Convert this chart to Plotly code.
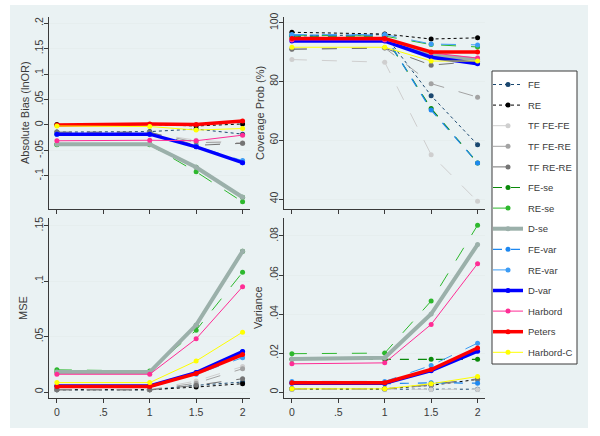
import plotly.graph_objects as go

W, H = 600, 436

x_vals = [0, 1, 1.5, 2]
series_names = ["FE", "RE", "TF FE-FE", "TF FE-RE", "TF RE-RE", "FE-se", "RE-se",
                "D-se", "FE-var", "RE-var", "D-var", "Harbord", "Peters", "Harbord-C"]

# values per series (same order as series_names), at x = 0, 1, 1.5, 2
bias_vals = [
    [-0.014, -0.013, -0.008, -0.018],
    [0.001, 0.001, -0.002, 0.002],
    [-0.016, -0.016, -0.030, -0.035],
    [-0.015, -0.015, -0.034, -0.036],
    [-0.014, -0.014, -0.040, -0.036],
    [-0.038, -0.038, -0.083, -0.142],
    [-0.039, -0.039, -0.092, -0.151],
    [-0.038, -0.038, -0.083, -0.142],
    [-0.018, -0.018, -0.043, -0.074],
    [-0.018, -0.018, -0.042, -0.070],
    [-0.018, -0.018, -0.043, -0.074],
    [-0.031, -0.030, -0.031, -0.020],
    [0.000, 0.002, 0.001, 0.008],
    [-0.002, -0.003, -0.010, -0.007],
]
coverage_vals = [
    [95.5, 96.0, 75.2, 58.5],
    [96.8, 96.2, 94.5, 94.9],
    [87.5, 86.6, 55.1, 39.2],
    [91.1, 91.5, 79.3, 74.7],
    [91.0, 91.4, 85.6, 86.9],
    [95.5, 95.5, 70.8, 52.3],
    [95.8, 95.5, 92.6, 91.8],
    [94.3, 94.3, 89.0, 87.5],
    [95.8, 95.8, 70.3, 52.3],
    [96.0, 96.0, 92.8, 92.5],
    [93.8, 93.8, 88.3, 86.1],
    [94.2, 94.2, 89.8, 88.0],
    [94.7, 94.7, 90.1, 90.1],
    [91.7, 91.7, 87.0, 87.0],
]
mse_vals = [
    [0.002, 0.002, 0.006, 0.009],
    [0.002, 0.002, 0.0045, 0.0075],
    [0.002, 0.002, 0.010, 0.023],
    [0.002, 0.002, 0.008, 0.021],
    [0.002, 0.002, 0.006, 0.012],
    [0.018, 0.018, 0.060, 0.127],
    [0.020, 0.019, 0.0558, 0.108],
    [0.018, 0.018, 0.0604, 0.127],
    [0.0054, 0.0054, 0.0175, 0.0365],
    [0.0055, 0.0055, 0.016, 0.031],
    [0.0054, 0.0054, 0.0175, 0.0365],
    [0.016, 0.016, 0.048, 0.095],
    [0.005, 0.005, 0.0166, 0.0338],
    [0.0085, 0.0085, 0.028, 0.054],
]
variance_vals = [
    [0.0015, 0.0015, 0.0015, 0.0015],
    [0.0017, 0.0017, 0.0035, 0.0065],
    [0.0014, 0.0014, 0.0014, 0.0014],
    [0.0016, 0.0016, 0.0035, 0.0065],
    [0.0017, 0.0017, 0.0040, 0.0068],
    [0.0168, 0.0168, 0.0168, 0.0168],
    [0.0197, 0.0200, 0.0467, 0.0855],
    [0.0170, 0.0176, 0.0400, 0.0756],
    [0.0050, 0.0043, 0.0048, 0.0046],
    [0.0055, 0.0055, 0.0137, 0.0251],
    [0.0045, 0.0045, 0.0110, 0.0210],
    [0.0145, 0.0150, 0.0347, 0.0658],
    [0.0048, 0.0048, 0.0116, 0.0226],
    [0.0017, 0.0017, 0.0043, 0.0080],
]

panel_titles = ["Absolute Bias (lnOR)", "Coverage Prob (%)", "MSE", "Variance"]
x_tickvals = [0, 0.5, 1, 1.5, 2]
x_ticktext = ["0", ".5", "1", "1.5", "2"]
bias_tickvals = [-0.1, -0.05, 0, 0.05, 0.1, 0.15, 0.2]
bias_ticktext = ["-.1", "-.05", "0", ".05", ".1", ".15", ".2"]
cov_tickvals = [40, 60, 80, 100]
cov_ticktext = ["40", "60", "80", "100"]
mse_tickvals = [0, 0.05, 0.1, 0.15]
mse_ticktext = ["0", ".05", ".1", ".15"]
var_tickvals = [0, 0.02, 0.04, 0.06, 0.08]
var_ticktext = ["0", ".02", ".04", ".06", ".08"]

colors = ["#1a476f", "#000000", "#cfcfcf", "#a3a3a3", "#747474", "#0a8a0a", "#2db82d",
          "#9bb0aa", "#1e88f0", "#3c9cf5", "#0000ff", "#ff2d95", "#ff0000", "#ffff00"]
dashes = ["dot", "dot", "longdash", "longdash", "longdash", "dash", "longdash",
          "solid", "dash", "longdash", "solid", "solid", "solid", "solid"]
widths = [1, 1, 1, 1, 1, 1.2, 1, 4, 1.2, 1, 3.5, 1, 3.5, 1]

FONT = "Liberation Sans, Arial, sans-serif"
TXT = "#3a3a3a"

fig = go.Figure()

panels = [
    (bias_vals, "x", "y"),
    (coverage_vals, "x2", "y2"),
    (mse_vals, "x3", "y3"),
    (variance_vals, "x4", "y4"),
]
for p, (vals, xa, ya) in enumerate(panels):
    for i, name in enumerate(series_names):
        fig.add_trace(go.Scatter(
            x=x_vals, y=vals[i], mode="lines+markers", name=name,
            legendgroup=name, showlegend=(p == 0),
            line=dict(color=colors[i], width=widths[i], dash=dashes[i]),
            marker=dict(color=colors[i], size=5, symbol="circle"),
            xaxis=xa, yaxis=ya, hoverinfo="skip",
        ))

def px_x(a, b):
    return [a / W, b / W]

def px_y(top, bottom):
    return [1 - bottom / H, 1 - top / H]

axis_common = dict(
    showline=True, linecolor="#3a3a3a", linewidth=1, ticks="outside", ticklen=4,
    tickcolor="#3a3a3a", tickfont=dict(family=FONT, size=10.5, color=TXT), zeroline=False,
    automargin=False,
)
x_common = dict(axis_common, tickvals=x_tickvals, ticktext=x_ticktext, range=[-0.085, 2.08],
                showgrid=False)
y_common = dict(axis_common, showgrid=True, gridcolor="#e6eeee", gridwidth=1, tickangle=-90,
                ticklabelstandoff=-3)

title_font = dict(family=FONT, size=11, color=TXT)

# title positions (pixel centre x, centre y)
title_pos = [(25, 113), (260, 113), (23, 308), (258, 308)]
annotations = [
    dict(text=t, x=cx / W, y=1 - cy / H, xref="paper", yref="paper", showarrow=False,
         textangle=-90, font=title_font, xanchor="center", yanchor="middle")
    for t, (cx, cy) in zip(panel_titles, title_pos)
]

fig.update_layout(
    template="none",
    width=W, height=H, margin=dict(l=0, r=0, t=0, b=0, autoexpand=False),
    paper_bgcolor="white", plot_bgcolor="white",
    xaxis=dict(x_common, domain=px_x(49, 250), anchor="y", showticklabels=False),
    yaxis=dict(y_common, domain=px_y(17, 209), anchor="x", range=[-0.165, 0.212],
               tickvals=bias_tickvals, ticktext=bias_ticktext),
    xaxis2=dict(x_common, domain=px_x(284, 485), anchor="y2", showticklabels=False),
    yaxis2=dict(y_common, domain=px_y(17, 209), anchor="x2", range=[36.6, 102],
                tickvals=cov_tickvals, ticktext=cov_ticktext),
    xaxis3=dict(x_common, domain=px_x(49, 250), anchor="y3"),
    yaxis3=dict(y_common, domain=px_y(218, 398), anchor="x3", range=[-0.0054, 0.157],
                tickvals=mse_tickvals, ticktext=mse_ticktext),
    xaxis4=dict(x_common, domain=px_x(284, 485), anchor="y4"),
    yaxis4=dict(y_common, domain=px_y(218, 398), anchor="x4", range=[-0.003, 0.0892],
                tickvals=var_tickvals, ticktext=var_ticktext),
    annotations=annotations,
    legend=dict(
        x=488 / W, y=1 - 70 / H, xanchor="left", yanchor="top",
        bgcolor="rgba(0,0,0,0)", borderwidth=0,
        font=dict(family=FONT, size=9.5, color=TXT), tracegroupgap=1.6,
        itemwidth=30,
    ),
    shapes=[
        dict(type="rect", xref="paper", yref="paper",
             x0=10 / W, x1=588 / W, y0=1 - 428 / H, y1=1 - 5 / H,
             fillcolor="#eaf2f3", line=dict(width=0), layer="below"),
        dict(type="rect", xref="paper", yref="paper",
             x0=492 / W, x1=577 / W, y0=1 - 364 / H, y1=1 - 71 / H,
             fillcolor="white", line=dict(width=1, color="#3a3a3a"), layer="below"),
    ],
)

fig.write_html("out.html", config={"displayModeBar": False},
               post_script="document.body.style.margin='0';document.body.style.overflow='hidden';")
